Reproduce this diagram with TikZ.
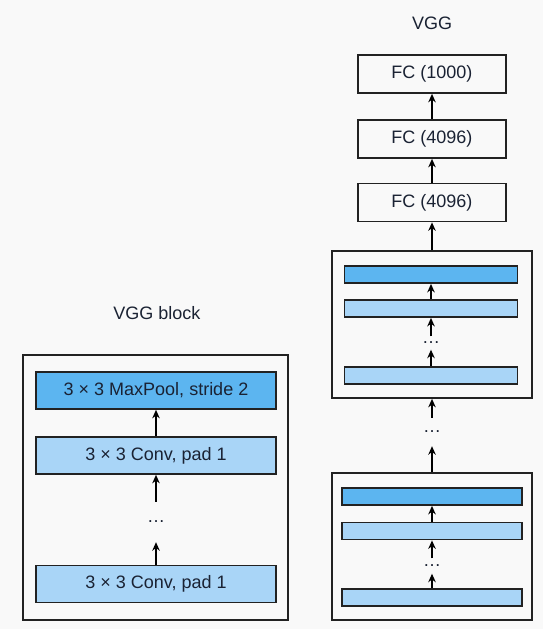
\documentclass[tikz,border=0pt]{standalone}
\usepackage{fontspec}
\setmainfont{Liberation Sans}
\usetikzlibrary{arrows.meta}
\definecolor{bgc}{HTML}{F9F9F9}
\definecolor{poolc}{HTML}{5CB5F0}
\definecolor{convc}{HTML}{A9D5F7}
\definecolor{inkc}{HTML}{222222}
\definecolor{txtc}{HTML}{1A2233}
\tikzset{
  lbl/.style={font=\fontsize{18}{21}\selectfont, text=txtc, inner sep=0pt},
  outerbox/.style={draw=inkc, line width=1.7pt, fill=bgc, inner sep=0pt},
  fcbox/.style={draw=inkc, line width=1.7pt, fill=bgc, minimum width=148pt, minimum height=38pt, inner sep=0pt, font=\fontsize{18}{21}\selectfont, text=txtc},
  bigbar/.style={draw=inkc, line width=1.7pt, minimum width=240pt, minimum height=37pt, inner sep=0pt, font=\fontsize{18}{21}\selectfont, text=txtc},
  smallbar/.style={draw=inkc, line width=1.8pt, minimum height=17pt, inner sep=0pt},
  dotsnode/.style={inner sep=0pt, font=\fontsize{18}{21}\selectfont, text=txtc},
  arr/.style={draw=black, line width=1.6pt, -{Stealth[length=8.5pt,width=7.5pt]}},
}
\begin{document}
\begin{tikzpicture}[x=1pt,y=-1pt]
\useasboundingbox (0,0) rectangle (543,629);
\fill[bgc] (0,0) rectangle (543,629);

% ---------- left: VGG block ----------
\node[lbl] (tblock) at (157,313) {VGG block};
\node[outerbox, minimum width=265pt, minimum height=265pt] (lblock) at (155.5,487.5) {};
\node[bigbar, fill=poolc] (pool) at (156,390.5) {3 × 3 MaxPool, stride 2};
\node[bigbar, fill=convc] (conv1) at (156,455.5) {3 × 3 Conv, pad 1};
\node[dotsnode, minimum height=40pt] (ldots) at (156,522) {\dots};
\node[bigbar, fill=convc] (conv2) at (156,584) {3 × 3 Conv, pad 1};
\draw[arr] (conv1) -- (pool);
\draw[arr] (ldots) -- (conv1);
\draw[arr] (conv2) -- (ldots);

% ---------- right: VGG ----------
\node[lbl] (tvgg) at (432,23) {VGG};
\node[fcbox] (fc3) at (432,74) {FC (1000)};
\node[fcbox] (fc2) at (432,139) {FC (4096)};
\node[fcbox] (fc1) at (432,202.5) {FC (4096)};

\node[outerbox, minimum width=200pt, minimum height=147pt] (blkA) at (432,324.5) {};
\node[smallbar, fill=poolc, minimum width=173pt] (a1) at (431,274.5) {};
\node[smallbar, fill=convc, minimum width=173pt] (a2) at (431,308.5) {};
\node[dotsnode, minimum height=13pt] (adots) at (431,343) {\dots};
\node[smallbar, fill=convc, minimum width=173pt] (a3) at (431,375.5) {};

\node[dotsnode, minimum height=28pt] (mdots) at (432,432) {\dots};

\node[outerbox, minimum width=200pt, minimum height=147pt] (blkB) at (432,546.5) {};
\node[smallbar, fill=poolc, minimum width=180pt] (b1) at (432,496.5) {};
\node[smallbar, fill=convc, minimum width=180pt] (b2) at (432,531) {};
\node[dotsnode, minimum height=15pt] (bdots) at (432,566) {\dots};
\node[smallbar, fill=convc, minimum width=180pt] (b3) at (432,597.5) {};

\draw[arr] (fc2) -- (fc3);
\draw[arr] (fc1) -- (fc2);
\draw[arr] (blkA.north -| fc1.south) -- (fc1);
\draw[arr] (a2.north -| a1.south) -- (a1);
\draw[arr] (adots) -- (a2);
\draw[arr] (a3.north -| adots.south) -- (adots);
\draw[arr] (mdots) -- (blkA.south -| mdots.north);
\draw[arr] (blkB.north -| mdots.south) -- (mdots);
\draw[arr] (b2) -- (b1);
\draw[arr] (bdots) -- (b2);
\draw[arr] (b3) -- (bdots);
\end{tikzpicture}
\end{document}
